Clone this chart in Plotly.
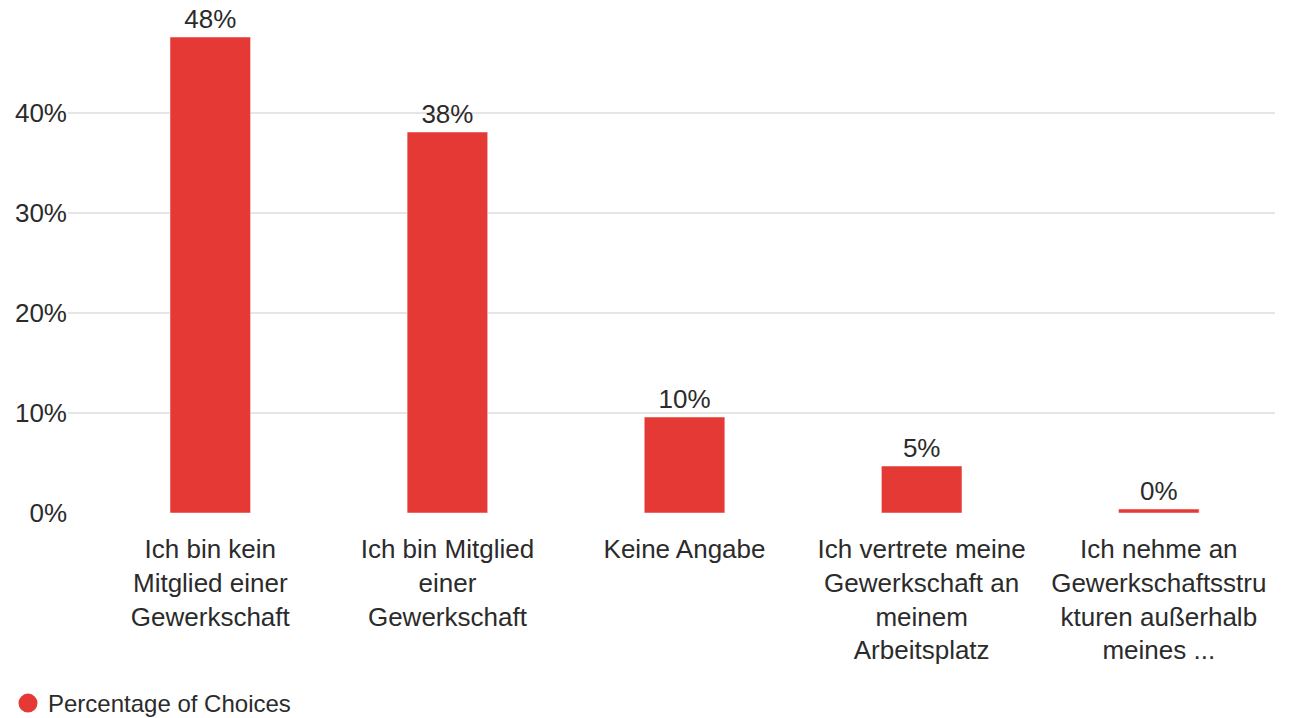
import plotly.graph_objects as go

# Données
categories = [
    "Ich bin kein<br>Mitglied einer<br>Gewerkschaft",
    "Ich bin Mitglied<br>einer<br>Gewerkschaft",
    "Keine Angabe",
    "Ich vertrete meine<br>Gewerkschaft an<br>meinem<br>Arbeitsplatz",
    "Ich nehme an<br>Gewerkschaftsstru<br>kturen außerhalb<br>meines ...",
]
shares = [0.476, 0.381, 0.096, 0.047, 0.004]
tick_vals = [0, 0.1, 0.2, 0.3, 0.4]
tick_text = ["0%", "10%", "20%", "30%", "40%"]

bar_color = "#E53935"
text_color = "#2b2b2b"
font_family = "Liberation Sans, Arial, sans-serif"
fsize = 26

fig = go.Figure()

fig.add_trace(go.Bar(
    x=categories,
    y=shares,
    width=0.34,
    marker_color=bar_color,
    texttemplate="%{y:.0%}",
    textposition="outside",
    textfont=dict(size=fsize, color=text_color),
    cliponaxis=False,
    showlegend=False,
))

# Entrée de légende (pastille ronde)
fig.add_trace(go.Scatter(
    x=[None], y=[None],
    mode="markers",
    name="Percentage of Choices",
    marker=dict(symbol="circle", size=16, color=bar_color,
                line=dict(color=bar_color, width=3)),
))

# la page a une marge de 8px autour du graphique : on compense
fig.update_layout(
    width=1303,
    height=718,
    template="plotly_white",
    paper_bgcolor="white",
    plot_bgcolor="white",
    font=dict(family=font_family, size=fsize, color=text_color),
    margin=dict(l=60, r=36, t=5, b=213),
    xaxis=dict(
        type="category",
        range=[-0.6, 4.49],
        automargin=False,
        showgrid=False,
        showline=False,
        zeroline=False,
        ticks="",
        ticklabelstandoff=18,
        tickfont=dict(size=fsize, color=text_color),
    ),
    yaxis=dict(
        range=[0, 0.5],
        automargin=False,
        tickvals=tick_vals,
        ticktext=tick_text,
        showgrid=True,
        gridcolor="#e5e5e5",
        gridwidth=2,
        zeroline=False,
        showline=False,
        ticks="",
        tickfont=dict(size=fsize, color=text_color),
    ),
    legend=dict(
        orientation="h",
        xref="container",
        yref="container",
        x=0,
        y=0,
        xanchor="left",
        yanchor="bottom",
        font=dict(size=24, color=text_color),
    ),
    showlegend=True,
)

fig.write_html("out.html")
